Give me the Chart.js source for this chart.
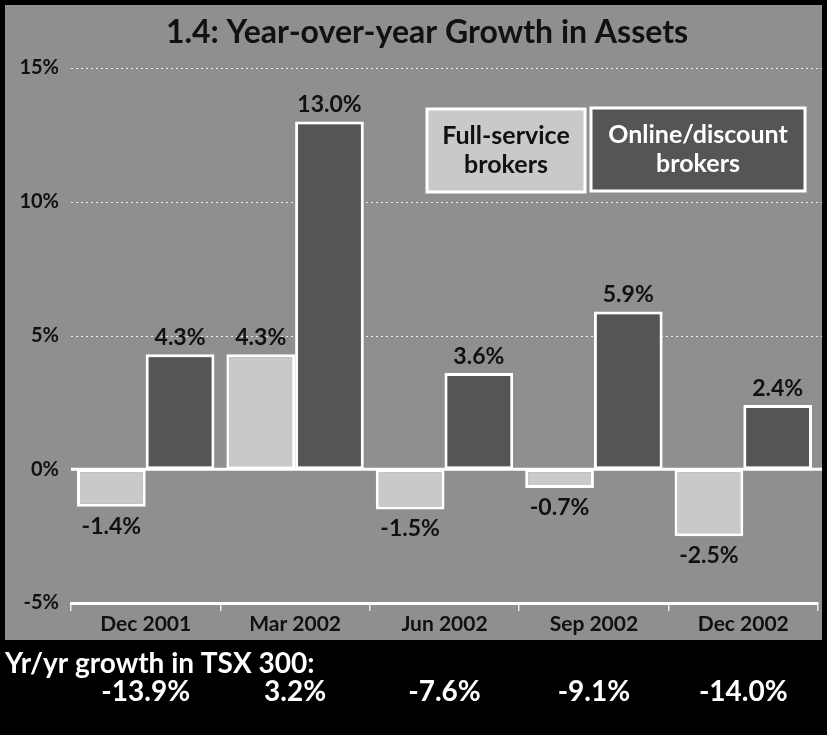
<!DOCTYPE html>
<html>
<head>
<meta charset="utf-8">
<script src="https://cdn.jsdelivr.net/npm/chart.js@4/dist/chart.umd.min.js"></script>
<style>
  body { margin: 0; background: #000; }
  #chart { display: block; }
</style>
</head>
<body>
<canvas id="chart" width="827" height="735"></canvas>
<script>
// ==== Data ====
var quarters = ['Dec 2001', 'Mar 2002', 'Jun 2002', 'Sep 2002', 'Dec 2002']
var fullService = [-1.4, 4.3, -1.5, -0.7, -2.5]
var onlineDiscount = [4.3, 13.0, 3.6, 5.9, 2.4]
var tsxGrowth = [-13.9, 3.2, -7.6, -9.1, -14.0]
var seriesNames = [['Full-service', 'brokers'], ['Online/discount', 'brokers']]
var yTicks = [-5, 0, 5, 10, 15]

var FONT = 'Lato, "DejaVu Sans", sans-serif'
var BG = '#8f8f8f'
var LIGHT = '#c9c9c9'
var DARK = '#555555'

function pct(v) {
    return v.toFixed(1) + '%'
}

// ==== Drawing helpers (background, grid, labels, legend, TSX row) ====
var decorations = {
    id: 'decorations',
    beforeDraw: function(chart) {
        var c = chart.ctx
        c.save()
        c.fillStyle = '#000'
        c.fillRect(0, 0, chart.width, chart.height)
        c.fillStyle = BG
        c.fillRect(5, 5, 817, 635)
        // title
        c.fillStyle = '#111'
        c.font = 'bold 32px ' + FONT
        c.textAlign = 'center'
        c.textBaseline = 'middle'
        c.fillText('1.4: Year-over-year Growth in Assets', 427, 33)
        c.restore()
    },
    beforeDatasetsDraw: function(chart) {
        var c = chart.ctx
        var y = chart.scales.y
        var area = chart.chartArea
        c.save()
        c.strokeStyle = 'rgba(255,255,255,0.85)'
        c.lineWidth = 1
        c.setLineDash([2, 3])
        yTicks.forEach(function(t) {
            if (t <= 0) return
            var py = Math.round(y.getPixelForValue(t)) + 0.5
            c.beginPath()
            c.moveTo(area.left, py)
            c.lineTo(822, py)
            c.stroke()
        })
        c.restore()
    },
    afterDatasetsDraw: function(chart) {
        var c = chart.ctx
        var y = chart.scales.y
        var area = chart.chartArea
        c.save()
        // zero line
        c.strokeStyle = '#fff'
        c.lineWidth = 3
        c.beginPath()
        var y0 = y.getPixelForValue(0)
        c.moveTo(area.left, y0)
        c.lineTo(822, y0)
        c.stroke()

        // value labels
        c.fillStyle = '#111'
        c.font = 'bold 23px ' + FONT
        c.textAlign = 'center'
        chart.data.datasets.forEach(function(ds, i) {
            chart.getDatasetMeta(i).data.forEach(function(bar, j) {
                var v = ds.data[j]
                if (v >= 0) {
                    c.textBaseline = 'bottom'
                    c.fillText(pct(v), bar.x, bar.y - 5)
                } else {
                    c.textBaseline = 'top'
                    c.fillText(pct(v), bar.x, bar.y + 8)
                }
            })
        })

        // legend boxes
        var boxes = [
            { x: 427, y: 109, w: 158, h: 83, fill: LIGHT, text: '#111' },
            { x: 591, y: 108, w: 214, h: 83, fill: DARK, text: '#fff' }
        ]
        c.font = 'bold 25px ' + FONT
        c.textBaseline = 'middle'
        boxes.forEach(function(b, i) {
            c.fillStyle = b.fill
            c.fillRect(b.x, b.y, b.w, b.h)
            c.strokeStyle = '#fff'
            c.lineWidth = 3
            c.strokeRect(b.x, b.y, b.w, b.h)
            c.fillStyle = b.text
            seriesNames[i].forEach(function(line, k) {
                c.fillText(line, b.x + b.w / 2, b.y + 27 + k * 29)
            })
        })
        c.restore()
    },
    afterDraw: function(chart) {
        var c = chart.ctx
        var x = chart.scales.x
        c.save()
        c.fillStyle = '#fff'
        c.font = 'bold 28px ' + FONT
        c.textBaseline = 'middle'
        c.textAlign = 'left'
        c.fillText('Yr/yr growth in TSX 300:', 5, 664)
        c.textAlign = 'center'
        tsxGrowth.forEach(function(v, i) {
            c.fillText(pct(v), x.getPixelForValue(i), 692)
        })
        c.restore()
    }
}

// ==== Config Graph ====
var config = {
    type: 'bar',
    data: {
        labels: quarters,
        datasets: [{
            label: seriesNames[0].join(' '),
            data: fullService,
            backgroundColor: LIGHT,
            borderColor: '#fff',
            borderWidth: 3,
            borderSkipped: false,
        }, {
            label: seriesNames[1].join(' '),
            data: onlineDiscount,
            backgroundColor: DARK,
            borderColor: '#fff',
            borderWidth: 3,
            borderSkipped: false,
        }],
    },
    options: {
        responsive: false,
        animation: false,
        layout: {
            padding: { top: 68, right: 9, bottom: 95, left: 0 }
        },
        datasets: {
            bar: { categoryPercentage: 0.92, barPercentage: 1 }
        },
        plugins: {
            legend: false,
            tooltip: false,
            title: false
        },
        scales: {
            y: {
                min: -5,
                max: 15,
                afterFit: function(scale) { scale.width = 71 },
                afterBuildTicks: function(scale) {
                    scale.ticks = yTicks.map(function(v) { return { value: v } })
                },
                grid: { display: false },
                border: { display: false },
                ticks: {
                    padding: 4,
                    color: '#111',
                    font: { family: FONT, size: 20, weight: 'bold' },
                    callback: function(v) { return v + '%' }
                }
            },
            x: {
                afterFit: function(scale) { scale.height = 37 },
                grid: {
                    offset: true,
                    drawOnChartArea: false,
                    color: '#e8e8e8',
                    lineWidth: 1.5,
                    tickLength: 8
                },
                border: { color: '#fff', width: 3 },
                ticks: {
                    padding: 1,
                    color: '#111',
                    font: { family: FONT, size: 21, weight: 'bold' }
                }
            }
        }
    },
    plugins: [decorations]
}

const ctx = document.getElementById('chart').getContext('2d')
new Chart(ctx, config)
</script>
</body>
</html>
